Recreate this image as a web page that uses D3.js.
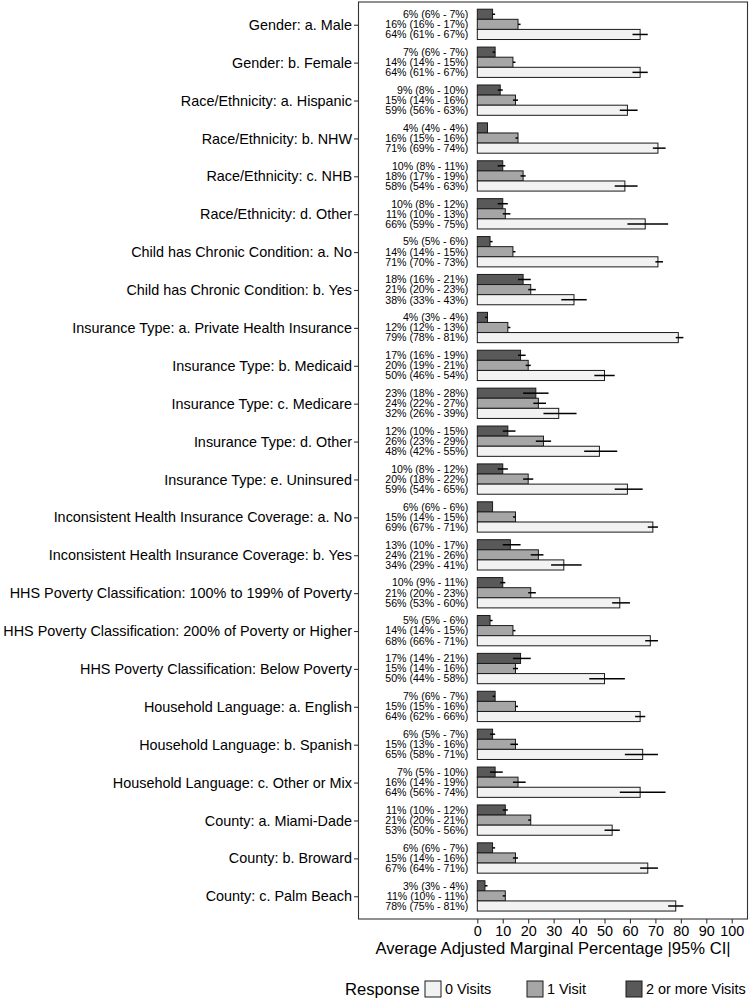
<!DOCTYPE html>
<html><head><meta charset="utf-8">
<script src="https://cdn.jsdelivr.net/npm/d3@7"></script>
<style>body{margin:0;background:#fff}svg{display:block;font-family:"Liberation Sans",Arial,sans-serif}</style>
</head><body>
<svg id="c" width="750" height="1000"></svg>
<script>
const categories = [
 "Gender: a. Male","Gender: b. Female","Race/Ethnicity: a. Hispanic","Race/Ethnicity: b. NHW",
 "Race/Ethnicity: c. NHB","Race/Ethnicity: d. Other","Child has Chronic Condition: a. No",
 "Child has Chronic Condition: b. Yes","Insurance Type: a. Private Health Insurance",
 "Insurance Type: b. Medicaid","Insurance Type: c. Medicare","Insurance Type: d. Other",
 "Insurance Type: e. Uninsured","Inconsistent Health Insurance Coverage: a. No",
 "Inconsistent Health Insurance Coverage: b. Yes","HHS Poverty Classification: 100% to 199% of Poverty",
 "HHS Poverty Classification: 200% of Poverty or Higher","HHS Poverty Classification: Below Poverty",
 "Household Language: a. English","Household Language: b. Spanish","Household Language: c. Other or Mix",
 "County: a. Miami-Dade","County: b. Broward","County: c. Palm Beach"];
const responses = ["2 or more Visits","1 Visit","0 Visits"];
// values [estimate, low, high] per category
const visits2 = [[6,6,7],[7,6,7],[9,8,10],[4,4,4],[10,8,11],[10,8,12],[5,5,6],[18,16,21],[4,3,4],[17,16,19],[23,18,28],[12,10,15],[10,8,12],[6,6,6],[13,10,17],[10,9,11],[5,5,6],[17,14,21],[7,6,7],[6,5,7],[7,5,10],[11,10,12],[6,6,7],[3,3,4]];
const visits1 = [[16,16,17],[14,14,15],[15,14,16],[16,15,16],[18,17,19],[11,10,13],[14,14,15],[21,20,23],[12,12,13],[20,19,21],[24,22,27],[26,23,29],[20,18,22],[15,14,15],[24,21,26],[21,20,23],[14,14,15],[15,14,16],[15,15,16],[15,13,16],[16,14,19],[21,20,21],[15,14,16],[11,10,11]];
const visits0 = [[64,61,67],[64,61,67],[59,56,63],[71,69,74],[58,54,63],[66,59,75],[71,70,73],[38,33,43],[79,78,81],[50,46,54],[32,26,39],[48,42,55],[59,54,65],[69,67,71],[34,29,41],[56,53,60],[68,66,71],[50,44,58],[64,62,66],[65,58,71],[64,56,74],[53,50,56],[67,64,71],[78,75,81]];
const xTicks = [0,10,20,30,40,50,60,70,80,90,100];
const fills = {"2 or more Visits":"#595959","1 Visit":"#A6A6A6","0 Visits":"#F2F2F2"};
const legendOrder = ["0 Visits","1 Visit","2 or more Visits"];

const series = {"2 or more Visits":visits2,"1 Visit":visits1,"0 Visits":visits0};
const data = [];
categories.forEach((c,i)=>responses.forEach(r=>{
  const v = series[r][i];
  data.push({cat:c,resp:r,v:v[0],lo:v[1],hi:v[2]});
}));

const svg = d3.select("#c");
const P = {l:358.5,r:747.5,t:2,b:919};
const x = d3.scaleLinear().domain([-46.7,106.2]).range([P.l,P.r]);
const y = d3.scalePoint().domain(categories).range([P.t,P.b]).padding(0.6);
const step = y.step();
const inner = d3.scaleBand().domain(responses).range([-0.41*step,0.39*step]);

const g = svg.append("g");
// bars
g.selectAll("rect.bar").data(data).join("rect")
  .attr("x",x(0)).attr("y",d=>y(d.cat)+inner(d.resp))
  .attr("width",d=>x(d.v)-x(0)).attr("height",inner.bandwidth())
  .attr("fill",d=>fills[d.resp]).attr("stroke","#1a1a1a").attr("stroke-width",1);
// error bars
g.selectAll("line.err").data(data).join("line")
  .attr("x1",d=>x(d.lo)).attr("x2",d=>x(d.hi))
  .attr("y1",d=>y(d.cat)+inner(d.resp)+inner.bandwidth()/2)
  .attr("y2",d=>y(d.cat)+inner(d.resp)+inner.bandwidth()/2)
  .attr("stroke","#000").attr("stroke-width",1.5);
// bar labels
g.selectAll("text.lab").data(data).join("text")
  .attr("x",x(0)-9).attr("y",d=>y(d.cat)+inner(d.resp)+inner.bandwidth()/2)
  .attr("dy","0.36em").attr("text-anchor","end").attr("font-size",10.6).attr("fill","#000")
  .text(d=>`${d.v}% (${d.lo}% - ${d.hi}%)`);

// panel border
svg.append("rect").attr("x",P.l).attr("y",P.t).attr("width",P.r-P.l).attr("height",P.b-P.t)
  .attr("fill","none").attr("stroke","#333").attr("stroke-width",1.1);

// y axis
const ya = svg.append("g").attr("transform",`translate(${P.l},0)`)
  .call(d3.axisLeft(y).tickSize(4.5).tickPadding(2));
ya.select(".domain").remove();
ya.selectAll(".tick line").attr("stroke","#333").attr("stroke-width",1.1);
ya.selectAll(".tick text").attr("font-size",14.4).attr("fill","#000").attr("font-family","Liberation Sans, Arial, sans-serif");

// x axis
const xa = svg.append("g").attr("transform",`translate(0,${P.b})`)
  .call(d3.axisBottom(x).tickValues(xTicks).tickSize(4.5).tickPadding(2));
xa.select(".domain").remove();
xa.selectAll(".tick line").attr("stroke","#333").attr("stroke-width",1.1);
xa.selectAll(".tick text").attr("font-size",14.4).attr("fill","#000").attr("font-family","Liberation Sans, Arial, sans-serif");

svg.append("text").attr("x",(P.l+P.r)/2).attr("y",954).attr("text-anchor","middle")
  .attr("font-size",16.6).attr("fill","#000").text("Average Adjusted Marginal Percentage |95% CI|");

// legend
const lg = svg.append("g");
lg.append("text").attr("x",345).attr("y",989).attr("dy","0.35em").attr("font-size",16.6).text("Response");
const lx = [425,527,626];
legendOrder.forEach((r,i)=>{
  lg.append("rect").attr("x",lx[i]).attr("y",981).attr("width",16).attr("height",16)
    .attr("fill",fills[r]).attr("stroke","#1a1a1a").attr("stroke-width",1);
  lg.append("text").attr("x",lx[i]+20).attr("y",989).attr("dy","0.35em").attr("font-size",14.4).text(r);
});
</script>
</body></html>
